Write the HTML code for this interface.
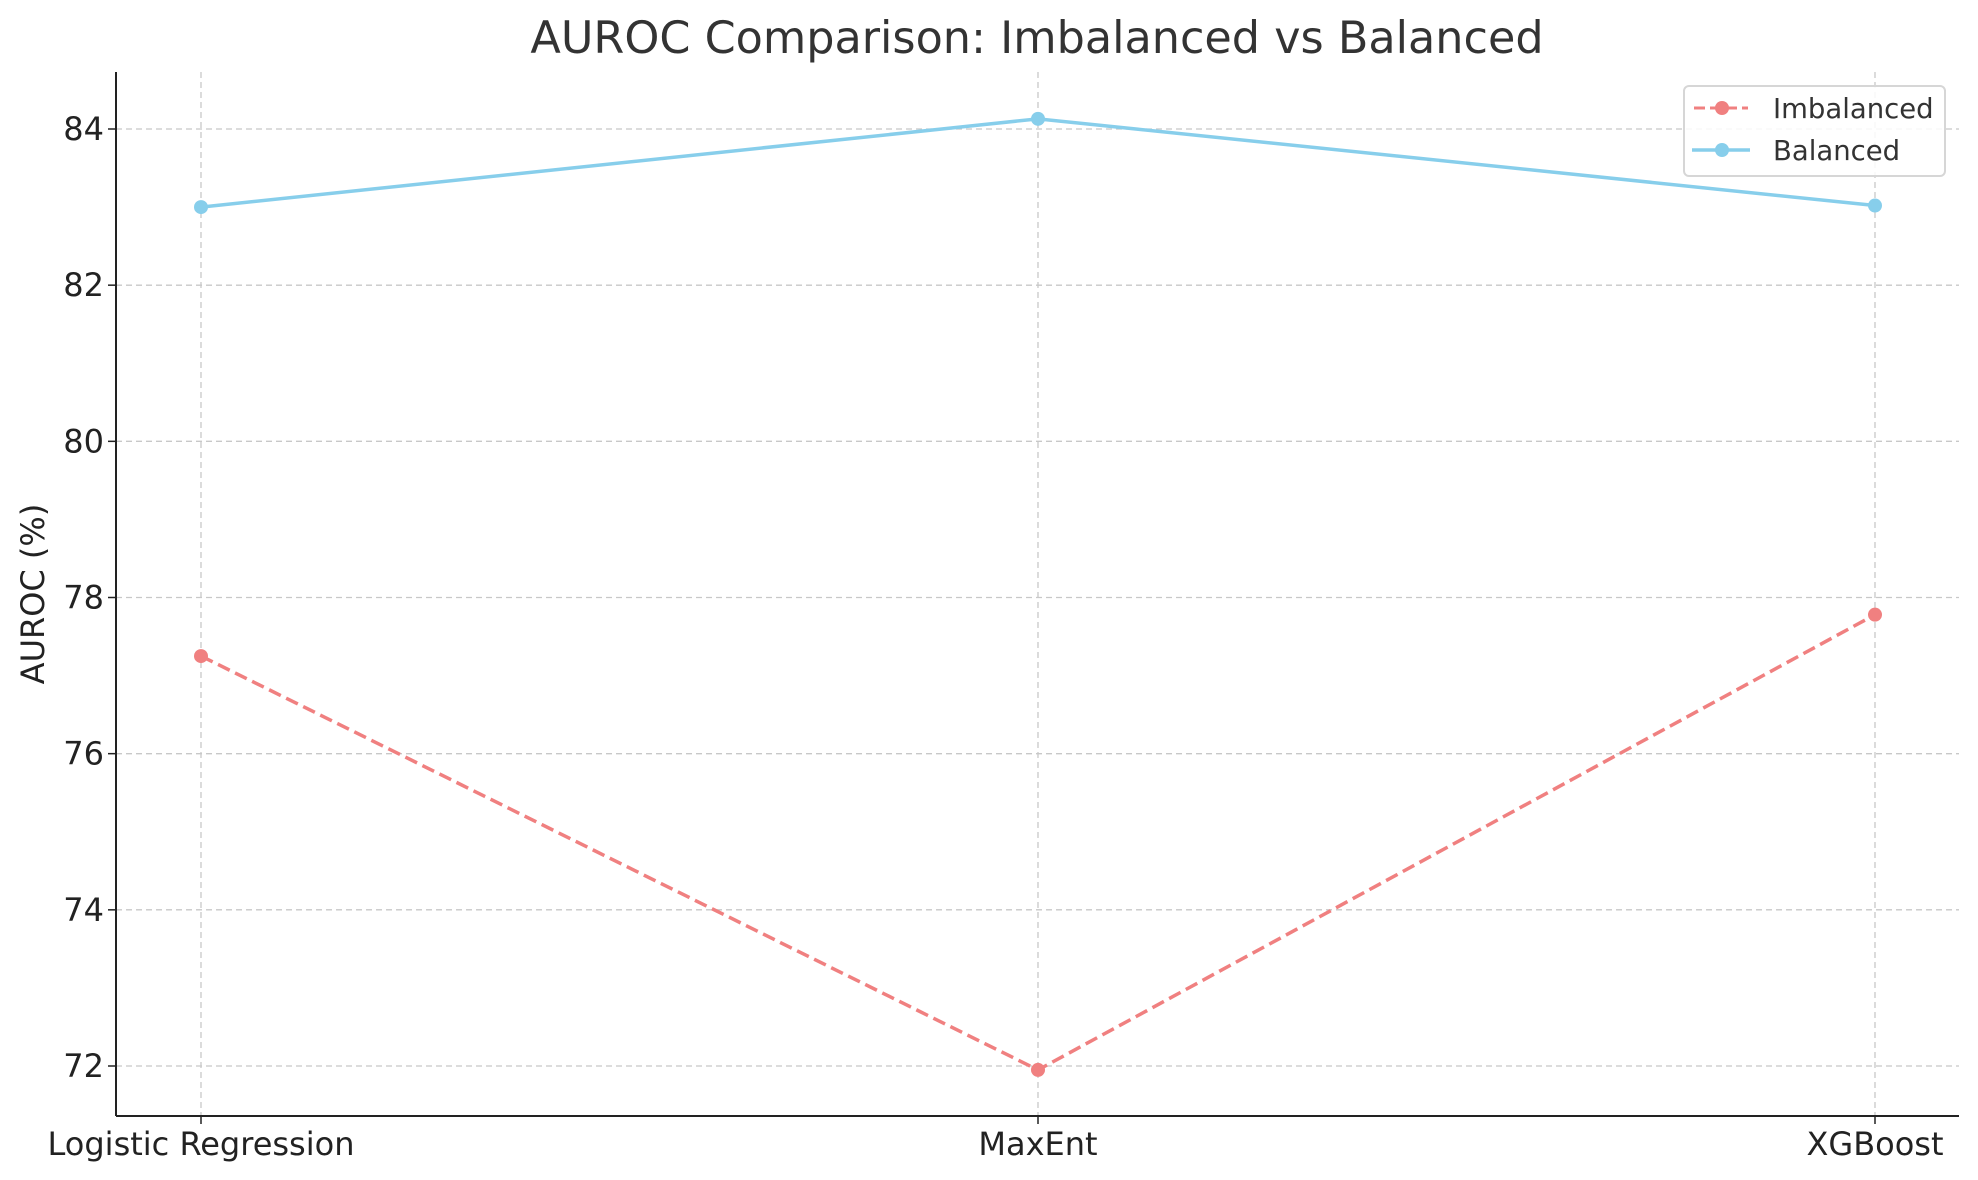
<!DOCTYPE html>
<html><head><meta charset="utf-8"><style>
html,body{margin:0;padding:0;background:#fff;}
svg{display:block;font-family:"DejaVu Sans","Liberation Sans",sans-serif;}
</style></head><body>
<svg id="chart" width="1978" height="1180" viewBox="0 0 1978 1180">
<text x="1037" y="53" text-anchor="middle" font-size="44.5" fill="#333">AUROC Comparison: Imbalanced vs Balanced</text>
<text transform="translate(44,594) rotate(-90)" text-anchor="middle" font-size="32" fill="#222">AUROC (%)</text>
<g id="grid"></g><g id="series"></g><g id="axes"></g>
<g>
<rect x="1684" y="86" width="261" height="90" rx="5" fill="#fff" fill-opacity="0.85" stroke="#d6d6d6" stroke-width="2"/>
<line x1="1694" y1="108" x2="1748" y2="108" stroke="#F08080" stroke-width="3" stroke-dasharray="11,5"/>
<circle cx="1722" cy="108" r="7" fill="#F08080"/>
<text x="1773" y="118" font-size="27.5" fill="#333">Imbalanced</text>
<line x1="1692" y1="150" x2="1750" y2="150" stroke="#87CEEB" stroke-width="3.5"/>
<circle cx="1722" cy="150" r="7" fill="#87CEEB"/>
<text x="1773" y="160" font-size="27.5" fill="#333">Balanced</text>
</g>
</svg>
<script>
const categories=["Logistic Regression","MaxEnt","XGBoost"];
const imbalanced=[77.25,71.95,77.78];
const balanced=[83.0,84.13,83.02];
const yTicks=[72,74,76,78,80,82,84];
const NS="http://www.w3.org/2000/svg";
const L=116,R=1959,T=72,B=1116;
function xs(i){return 201+i*(1875-201)/(categories.length-1);}
function ys(v){return 1066+(v-72)*(129-1066)/12;}
function mk(tag,attrs,parent){const e=document.createElementNS(NS,tag);for(const k in attrs)e.setAttribute(k,attrs[k]);parent.appendChild(e);return e;}
const grid=document.getElementById('grid'),ser=document.getElementById('series'),ax=document.getElementById('axes');
yTicks.forEach(t=>{const y=ys(t);
const g=mk('line',{x1:L,x2:R,y1:y,y2:y,stroke:'#c8c8c8','stroke-width':1.3,'stroke-dasharray':'6,4'},grid);


mk('line',{x1:L-8,x2:L,y1:y,y2:y,stroke:'#222','stroke-width':1.5},ax);
const tx=mk('text',{x:L-12,y:y+11,'text-anchor':'end','font-size':32,fill:'#222'},ax);tx.textContent=t;

});
categories.forEach((c,i)=>{const x=xs(i);
const g=mk('line',{x1:x,x2:x,y1:T,y2:B,stroke:'#c8c8c8','stroke-width':1.3,'stroke-dasharray':'6,4'},grid);


mk('line',{x1:x,x2:x,y1:B,y2:B+8,stroke:'#222','stroke-width':1.5},ax);
const tx=mk('text',{x:x,y:B+39,'text-anchor':'middle','font-size':32,fill:'#222'},ax);tx.textContent=c;

});
mk('line',{x1:L,x2:L,y1:T,y2:B,stroke:'#222','stroke-width':2},ax);
mk('line',{x1:L,x2:R,y1:B,y2:B,stroke:'#222','stroke-width':2},ax);
function series(vals,color,dash,name){
const p=mk('polyline',{points:vals.map((v,i)=>xs(i)+','+ys(v)).join(' '),fill:'none',stroke:color,'stroke-width':3.5,'stroke-dasharray':dash},ser);


vals.forEach((v,i)=>{const c=mk('circle',{cx:xs(i),cy:ys(v),r:7,fill:color},ser);

});}
series(imbalanced,'#F08080','13,6','imbalanced');
series(balanced,'#87CEEB','none','balanced');
</script>
</body></html>
